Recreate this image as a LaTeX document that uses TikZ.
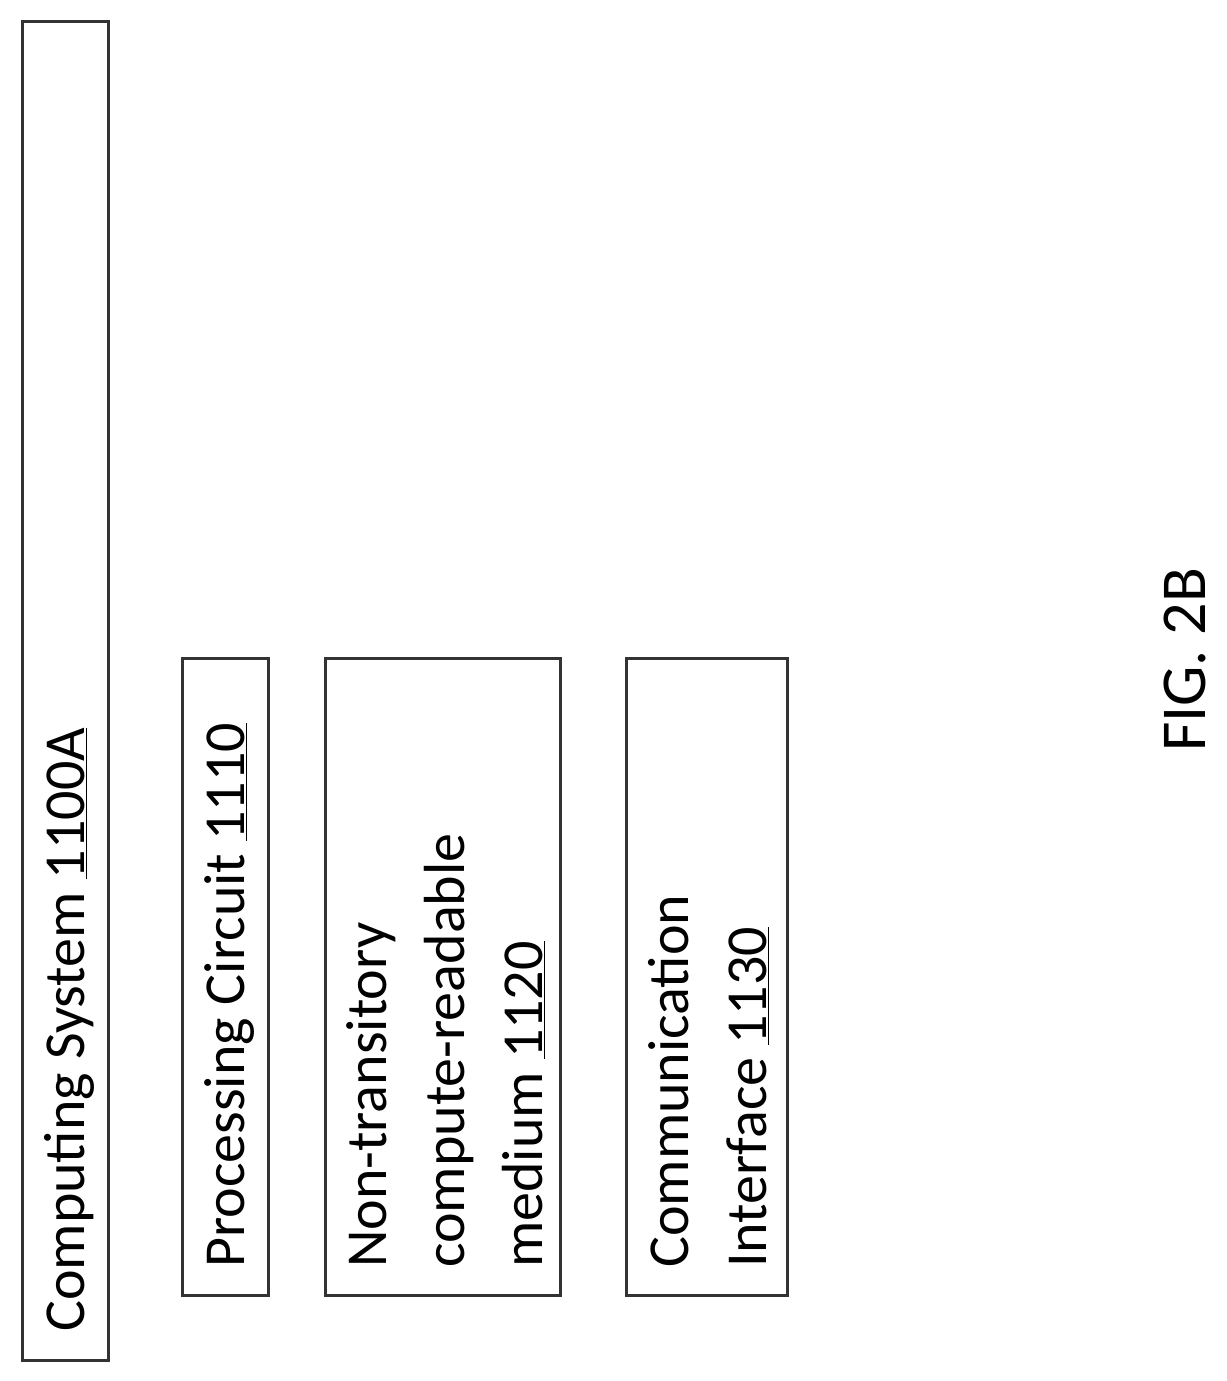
\documentclass[tikz,border=0pt]{standalone}
\usepackage{fontspec}
\setmainfont{Carlito}
\usetikzlibrary{positioning}

\begin{document}
\begin{tikzpicture}[
    x=1pt, y=-1pt,
    box/.style={draw=black!80, line width=3pt},
    label/.style={rotate=90, anchor=north west, align=left, inner sep=0pt, font=\fontsize{58}{78}\selectfont}
]
\useasboundingbox (0,0) rectangle (1226,1381);

\draw[box] (22,22) rectangle (108,1360);
\draw[box] (182,658) rectangle (268,1295);
\draw[box] (325,658) rectangle (560,1295);
\draw[box] (626,658) rectangle (787,1295);

\node[label] (system) at (44,1332) {Computing System \underline{1100A}};
\node[label] (proc) at (204,1268) {Processing Circuit \underline{1110}};
\node[label] (medium) at (346,1268) {Non-transitory\\compute-readable\\medium \underline{1120}};
\node[label] (comm) at (648,1268) {Communication\\Interface \underline{1130}};

\node[rotate=90, font=\fontsize{64}{70}\selectfont] (fig) at (1185,660) {FIG. 2B};
\end{tikzpicture}
\end{document}
